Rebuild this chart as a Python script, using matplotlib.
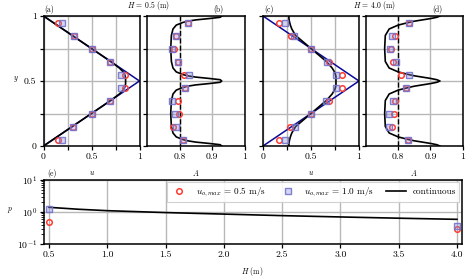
import matplotlib
matplotlib.use("Agg")
import matplotlib.pyplot as plt
import numpy as np

plt.rcParams['font.family'] = ['cmr10', 'DejaVu Serif']
plt.rcParams['mathtext.fontset'] = 'cm'
plt.rcParams['axes.formatter.use_mathtext'] = True
plt.rcParams['axes.unicode_minus'] = False

# ---- data: continuous profiles (y from 0 to 0.5, symmetric about 0.5) ----
y_half = [0, .01, .02, .03, .04, .05, .07, .10, .15, .25, .35, .40, .43, .45, .46, .47, .48, .49, .50]
u_a_half = [0, .02, .04, .06, .08, .10, .14, .20, .30, .50, .70, .79, .83, .845, .85, .853, .855, .855, .855]
u_c_half = [.27, .27, .27, .272, .275, .278, .285, .30, .34, .50, .66, .72, .745, .755, .758, .76, .76, .76, .76]
A_b_half = [.93, .925, .89, .85, .825, .81, .79, .78, .775, .773, .775, .78, .79, .81, .825, .85, .89, .925, .93]
A_d_half = [.93, .92, .90, .875, .85, .832, .80, .772, .76, .758, .76, .772, .80, .832, .85, .875, .90, .92, .93]

# triangle (initial) profile
y_tri = [0, 0.5, 1]
u_tri = [0, 1, 0]

# ---- data: discrete points ----
y_pts = [0.05, 0.15, 0.25, 0.35, 0.45, 0.55, 0.65, 0.75, 0.85, 0.95]
u_a_05 = [.146, .305, .50, .69, .854, .854, .694, .507, .32, .146]
u_a_10 = [.194, .305, .50, .69, .81, .81, .694, .507, .32, .194]
u_c_05 = [.167, .28, .497, .684, .823, .823, .684, .497, .288, .167]
u_c_10 = [.229, .337, .497, .656, .76, .76, .67, .497, .326, .229]
A_b_05 = [.81, .78, .799, .794, .817, .814, .795, .782, .789, .826]
A_b_10 = [.81, .788, .786, .778, .817, .83, .795, .776, .789, .826]
A_d_05 = [.832, .781, .787, .791, .823, .81, .784, .778, .791, .835]
A_d_10 = [.832, .77, .771, .784, .823, .834, .792, .774, .782, .835]

H_cont = [0.5, 0.75, 1.0, 1.5, 2.0, 2.5, 3.0, 3.5, 4.0]
p_cont = [1.40, 1.22, 1.10, 0.96, 0.86, 0.77, 0.70, 0.64, 0.59]
H_pts = [0.5, 4.0]
p_05 = [0.475, 0.29]
p_10 = [1.24, 0.36]

def full(h):
    return list(h) + list(reversed(h[:-1]))

y_curve = list(y_half) + [1 - v for v in reversed(y_half[:-1])]

RED = '#ff3b30'
PUR_E = (0.45, 0.45, 0.80, 0.9)
PUR_F = (0.55, 0.55, 0.85, 0.35)
NAVY = '#0a0a96'
GRID = '#b8b8b8'

W, Hh = 468, 279
fig = plt.figure(figsize=(W / 100, Hh / 100), dpi=100)

def box(x0, x1, y0, y1):
    return [x0 / W, 1 - y1 / Hh, (x1 - x0) / W, (y1 - y0) / Hh]

top_y0, top_y1 = 16, 146
axa = fig.add_axes(box(43.5, 139.5, top_y0, top_y1))
axb = fig.add_axes(box(147, 244.5, top_y0, top_y1))
axc = fig.add_axes(box(263, 359, top_y0, top_y1))
axd = fig.add_axes(box(366, 462.5, top_y0, top_y1))
axe = fig.add_axes(box(44, 462, 180, 244))

def style(ax):
    for s in ax.spines.values():
        s.set_linewidth(1.1)
    ax.tick_params(direction='out', length=3, width=0.9, labelsize=7, pad=2)
    ax.grid(True, color=GRID, linewidth=1.0)
    ax.set_axisbelow(True)

mk_c = dict(marker='o', ms=4.0, mfc='none', mec=RED, mew=1.1, ls='none')
mk_s = dict(marker='s', ms=4.0, mfc=PUR_F, mec=PUR_E, mew=1.0, ls='none')

yticks = [0, 0.25, 0.5, 0.75, 1]
ylabels = ['0', '', '0.5', '', '1']

for ax, uc, u05, u10 in [(axa, u_a_half, u_a_05, u_a_10), (axc, u_c_half, u_c_05, u_c_10)]:
    style(ax)
    ax.plot(u_tri, y_tri, color=NAVY, lw=1.1, zorder=2)
    ax.plot(full(uc), y_curve, color='black', lw=1.2, zorder=3)
    ax.plot(u05, y_pts, zorder=4, **mk_c)
    ax.plot(u10, y_pts, zorder=5, **mk_s)
    ax.set_xlim(0, 1)
    ax.set_ylim(0, 1)
    ax.set_xticks(yticks)
    ax.set_xticklabels(['0', '', '0.5', '', '1'])
    ax.set_yticks(yticks)
    ax.set_yticklabels(ylabels if ax is axa else [''] * 5)

for ax, Ac, A05, A10 in [(axb, A_b_half, A_b_05, A_b_10), (axd, A_d_half, A_d_05, A_d_10)]:
    style(ax)
    ax.axvline(0.8, color='black', ls='--', lw=1.0, zorder=2)
    ax.plot(full(Ac), y_curve, color='black', lw=1.2, zorder=3)
    ax.plot(A05, y_pts, zorder=4, **mk_c)
    ax.plot(A10, y_pts, zorder=5, **mk_s)
    ax.set_xlim(0.7, 1.0)
    ax.set_ylim(0, 1)
    ax.set_xticks([0.8, 0.9, 1.0])
    ax.set_xticklabels(['0.8', '0.9', '1'])
    ax.set_yticks(yticks)
    ax.set_yticklabels([''] * 5)

# bottom panel
style(axe)
l1, = axe.plot(H_pts, p_05, zorder=4, label='$u_{o,max}$ = 0.5 m/s', **mk_c)
l2, = axe.plot(H_pts, p_10, zorder=5, label='$u_{o,max}$ = 1.0 m/s', **mk_s)
l3, = axe.plot(H_cont, p_cont, color='black', lw=1.2, zorder=3, label='continuous')
axe.set_yscale('log')
axe.set_ylim(0.1, 10)
axe.set_xlim(0.457, 4.043)
axe.set_xticks([0.5, 1.0, 1.5, 2.0, 2.5, 3.0, 3.5, 4.0])
axe.set_xticklabels(['0.5', '1.0', '1.5', '2.0', '2.5', '3.0', '3.5', '4.0'])
axe.grid(False, which='minor')
axe.tick_params(which='minor', direction='out', length=2, width=0.6)
leg = axe.legend(handles=[l1, l2, l3], loc='upper right', ncol=3, fontsize=6.6,
                 frameon=True, fancybox=False, framealpha=0.9, edgecolor='#cccccc',
                 borderpad=0.3, columnspacing=1.3, handlelength=2.2, handletextpad=0.7,
                 borderaxespad=0.2, bbox_to_anchor=(0.997, 0.99))
leg.get_frame().set_linewidth(0.8)

# texts
fs_small = 5.5
fig.text(49 / W, 1 - 10 / Hh, '(a)', fontsize=fs_small, ha='center', va='center')
fig.text(218 / W, 1 - 10 / Hh, '(b)', fontsize=fs_small, ha='center', va='center')
fig.text(149 / W, 1 - 6 / Hh, '$H$ = 0.5 (m)', fontsize=fs_small, ha='center', va='center')
fig.text(269 / W, 1 - 10 / Hh, '(c)', fontsize=fs_small, ha='center', va='center')
fig.text(437 / W, 1 - 10 / Hh, '(d)', fontsize=fs_small, ha='center', va='center')
fig.text(375 / W, 1 - 6 / Hh, '$H$ = 4.0 (m)', fontsize=fs_small, ha='center', va='center')
fig.text(92 / W, 1 - 173 / Hh, '$u$', fontsize=fs_small, ha='center', va='center')
fig.text(196 / W, 1 - 173 / Hh, '$A$', fontsize=fs_small, ha='center', va='center')
fig.text(311 / W, 1 - 173 / Hh, '$u$', fontsize=fs_small, ha='center', va='center')
fig.text(414 / W, 1 - 173 / Hh, '$A$', fontsize=fs_small, ha='center', va='center')
fig.text(16 / W, 1 - 79 / Hh, '$y$', fontsize=fs_small, ha='center', va='center')
fig.text(10 / W, 1 - 210 / Hh, '$p$', fontsize=fs_small, ha='center', va='center')
fig.text(52 / W, 1 - 174 / Hh, '(e)', fontsize=fs_small, ha='center', va='center')
fig.text(252 / W, 1 - 272 / Hh, '$H$ (m)', fontsize=fs_small, ha='center', va='center')

fig.savefig('out.png', dpi=100)
